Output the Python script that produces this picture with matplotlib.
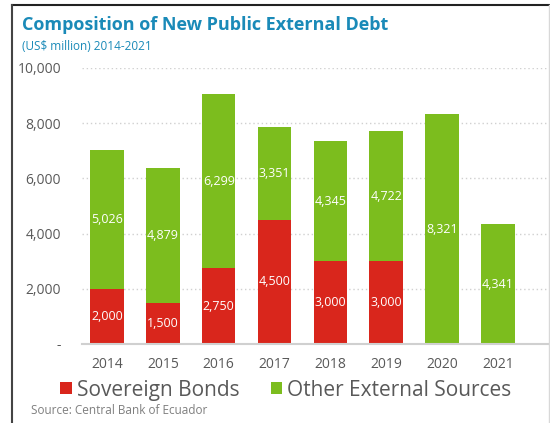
import matplotlib.pyplot as plt
from matplotlib.lines import Line2D
from matplotlib.ticker import FuncFormatter
import numpy as np

plt.rcParams["font.family"] = ["Open Sans", "DejaVu Sans"]

years = ["2014", "2015", "2016", "2017", "2018", "2019", "2020", "2021"]
sovereign_bonds = [2000, 1500, 2750, 4500, 3000, 3000, 0, 0]
other_sources = [5026, 4879, 6299, 3351, 4345, 4722, 8321, 4341]

red = "#d9261c"
green = "#7cbd1e"
blue = "#1a8ab8"
grey = "#595959"

fig = plt.figure(figsize=(5.5, 4.23), dpi=100)
ax = fig.add_axes([82 / 550, 1 - 344 / 423, 466 / 550, 276 / 423])

x = np.arange(len(years))
ax.bar(x, sovereign_bonds, width=0.6, color=red, label="Sovereign Bonds")
ax.bar(x, other_sources, width=0.6, bottom=sovereign_bonds, color=green,
       label="Other External Sources")

for i in range(len(years)):
    if sovereign_bonds[i] > 0:
        ax.text(x[i], sovereign_bonds[i] / 2, f"{sovereign_bonds[i]:,}",
                ha="center", va="center", color="white", fontsize=9)
    ax.text(x[i], sovereign_bonds[i] + other_sources[i] / 2,
            f"{other_sources[i]:,}", ha="center", va="center",
            color="white", fontsize=9)

ax.set_ylim(0, 10000)
ax.set_xlim(-0.45, 7.9)
ax.set_yticks(range(0, 10001, 2000))
ax.yaxis.set_major_formatter(FuncFormatter(lambda v, p: "-" if v == 0 else f"{int(v):,}"))
ax.set_xticks(x)
ax.set_xticklabels(years)
ax.tick_params(length=0, labelsize=10, labelcolor=grey)
ax.tick_params(axis="y", pad=15)
ax.tick_params(axis="x", pad=9)
ax.grid(axis="y", color="#d0d0d0", linestyle=(0, (1, 2)), linewidth=1)
ax.set_axisbelow(True)
for s in ["top", "right", "left"]:
    ax.spines[s].set_visible(False)
ax.spines["bottom"].set_color("#d0d0d0")
ax.spines["bottom"].set_linewidth(1.5)

fig.text(22 / 550, 1 - 25 / 423, "Composition of New Public External Debt",
         color=blue, fontsize=13, fontweight="bold", va="center")
fig.text(22 / 550, 1 - 47 / 423, "(US$ million) 2014-2021",
         color=blue, fontsize=8.5, va="center")
fig.text(31 / 550, 1 - 410 / 423, "Source: Central Bank of Ecuador",
         color="#7f7f7f", fontsize=8.5, va="center")

fig.legend(loc="center", bbox_to_anchor=(286 / 550, 1 - 390 / 423), ncol=2,
           frameon=False, fontsize=15, handlelength=0.55, handleheight=0.55,
           handletextpad=0.25, columnspacing=1.5, labelcolor=grey)

# frame around the chart
top = 1 - 5.5 / 423
fig.add_artist(Line2D([12 / 550, 549 / 550], [top, top], transform=fig.transFigure,
                      color="#222222", linewidth=1.5))
fig.add_artist(Line2D([12 / 550, 12 / 550], [0, top], transform=fig.transFigure,
                      color="#444444", linewidth=1.5))
fig.add_artist(Line2D([548.5 / 550, 548.5 / 550], [0, top], transform=fig.transFigure,
                      color="#d8d8d8", linewidth=1))

plt.savefig("out.png", dpi=100)
